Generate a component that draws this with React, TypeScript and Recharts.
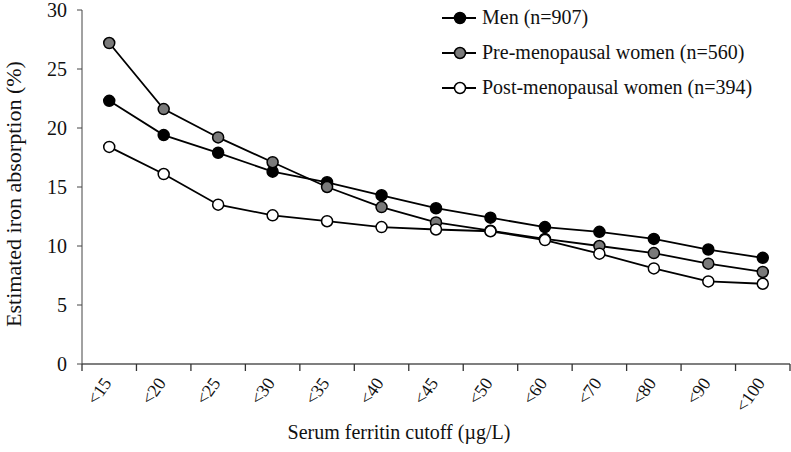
import React from "react";
import { LineChart, Line, XAxis, YAxis, Legend } from "recharts";

if (typeof document !== "undefined") {
  document.body.style.margin = "0";
}

const categories = ["<15", "<20", "<25", "<30", "<35", "<40", "<45", "<50", "<60", "<70", "<80", "<90", "<100"];
const men = [22.3, 19.4, 17.9, 16.3, 15.4, 14.3, 13.2, 12.4, 11.6, 11.2, 10.6, 9.7, 9.0];
const preMenopausal = [27.2, 21.6, 19.2, 17.1, 15.0, 13.3, 12.0, 11.3, 10.6, 10.0, 9.4, 8.5, 7.8];
const postMenopausal = [18.4, 16.1, 13.5, 12.6, 12.1, 11.6, 11.4, 11.25, 10.5, 9.35, 8.1, 7.0, 6.8];
const yTicks = [0, 5, 10, 15, 20, 25, 30];

const seriesNames = ["Men (n=907)", "Pre-menopausal women (n=560)", "Post-menopausal women (n=394)"];
const seriesKeys = ["men", "pre", "post"];
const seriesFills = ["#000000", "#7a7a7a", "#ffffff"];

const data = categories.map((c, i) => ({
  cat: c,
  men: men[i],
  pre: preMenopausal[i],
  post: postMenopausal[i],
}));

const W = 791;
const H = 452;
const M_TOP = 10;
const M_RIGHT = 1;
const Y_W = 82;
const X_H = 88;
const PLOT_W = W - Y_W - M_RIGHT;
const BW = PLOT_W / categories.length;
const FONT = "'Liberation Serif', 'Times New Roman', serif";

const XTick = (props: any) => {
  const { x, y, payload, index } = props;
  const cx = Number(x);
  const cy = Number(y);
  const last = index === categories.length - 1;
  const d = `M${cx - BW / 2},${cy}V${cy + 7}` + (last ? `M${cx + BW / 2},${cy}V${cy + 7}` : "");
  return (
    <g>
      <path d={d} stroke="#333" strokeWidth={1.3} fill="none" />
      <text
        x={cx + 3}
        y={cy + 19}
        textAnchor="end"
        transform={`rotate(-55, ${cx + 3}, ${cy + 19})`}
        fontFamily={FONT}
        fontSize={18}
        fill="#111"
      >
        {payload.value}
      </text>
    </g>
  );
};

const renderLegend = () => (
  <div style={{ fontFamily: FONT, fontSize: 20, color: "#111" }}>
    {seriesNames.map((n, i) => (
      <div key={n} style={{ display: "flex", alignItems: "center", height: 35 }}>
        <svg width={35} height={14} style={{ marginRight: 5 }}>
          <line x1={0} x2={34} y1={7} y2={7} stroke="#000" strokeWidth={2} />
          <circle cx={18} cy={7} r={5.5} fill={seriesFills[i]} stroke="#000" strokeWidth={1.5} />
        </svg>
        <span style={{ whiteSpace: "nowrap" }}>{n}</span>
      </div>
    ))}
  </div>
);

export default function App() {
  return (
    <LineChart
      width={W}
      height={H}
      data={data}
      margin={{ top: M_TOP, right: M_RIGHT, left: 0, bottom: 0 }}
    >
      <XAxis
        dataKey="cat"
        height={X_H}
        padding={{ left: BW / 2, right: BW / 2 }}
        axisLine={{ stroke: "#7f7f7f", strokeWidth: 2 }}
        tickLine={false}
        tickSize={0}
        tickMargin={0}
        tick={(p: any) => <XTick {...p} />}
        interval={0}
        label={{
          content: () => (
            <text x={399} y={439} textAnchor="middle" fontFamily={FONT} fontSize={20} fill="#111">
              Serum ferritin cutoff (µg/L)
            </text>
          ),
        }}
      />
      <YAxis
        width={Y_W}
        domain={[0, 30]}
        ticks={yTicks}
        interval={0}
        axisLine={{ stroke: "#444", strokeWidth: 1 }}
        tickLine={{ stroke: "#444", strokeWidth: 1 }}
        tickSize={5}
        tickMargin={10}
        tick={{ fontFamily: FONT, fontSize: 20, fill: "#111" }}
        label={{
          content: () => (
            <text
              x={13}
              y={194}
              textAnchor="middle"
              dominantBaseline="central"
              transform="rotate(-90, 13, 194)"
              fontFamily={FONT}
              fontSize={22}
              fill="#111"
            >
              Estimated iron absorption (%)
            </text>
          ),
        }}
      />
      <Legend
        layout="vertical"
        align="center"
        verticalAlign="middle"
        content={renderLegend}
        wrapperStyle={{ left: 442, top: 0, width: 345 }}
      />
      {seriesKeys.map((k, i) => (
        <Line
          key={k}
          type="linear"
          dataKey={k}
          name={seriesNames[i]}
          stroke="#000"
          strokeWidth={1.8}
          dot={{ r: 5.5, fill: seriesFills[i], stroke: "#000", strokeWidth: 1.5 }}
          activeDot={false}
          isAnimationActive={false}
        />
      ))}
    </LineChart>
  );
}
